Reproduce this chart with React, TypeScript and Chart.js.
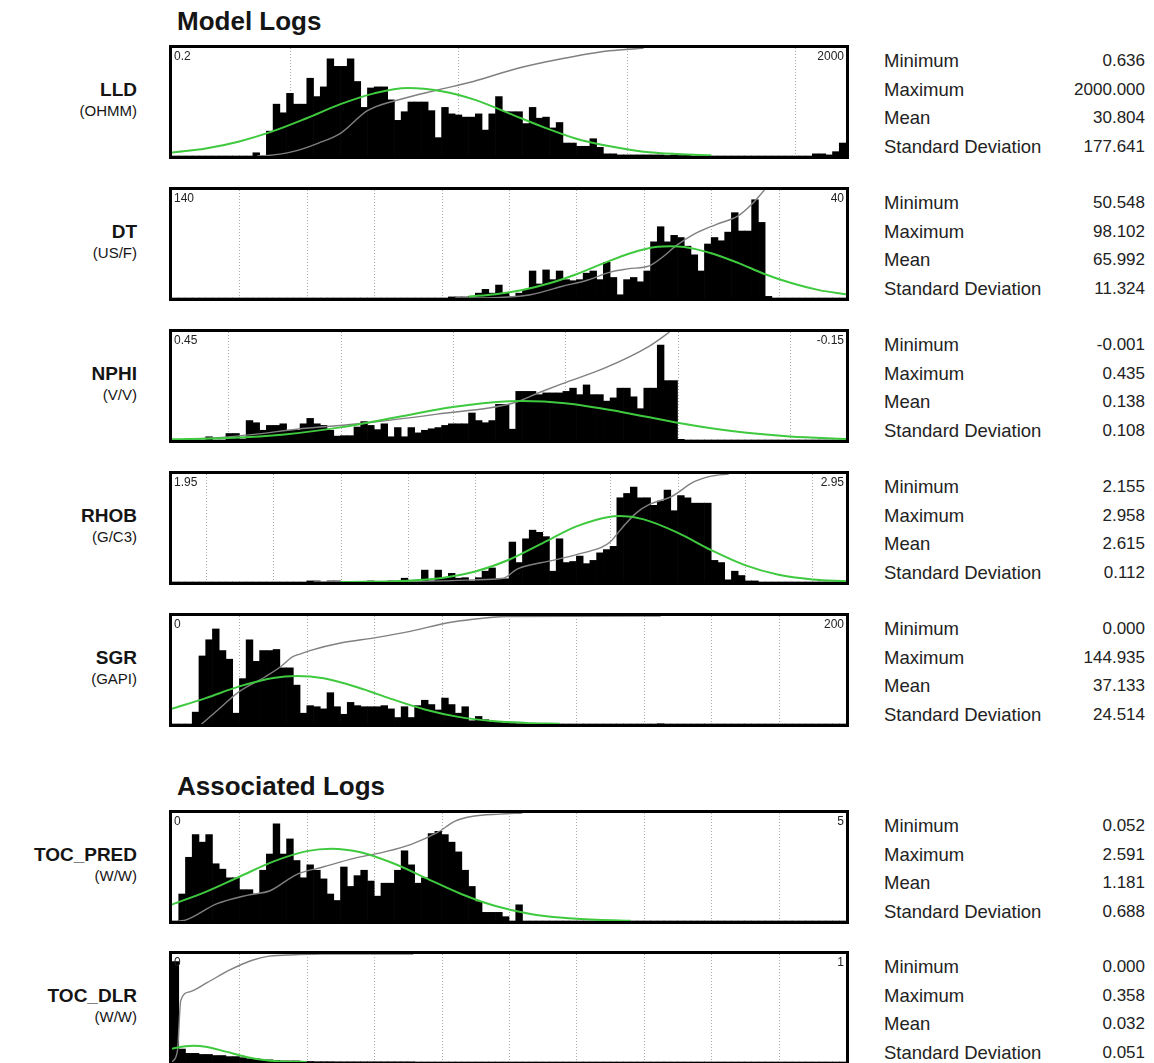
import React, { useEffect, useRef } from "react";
import { Chart, registerables } from "chart.js";

Chart.register(...registerables);

const FONT = '"Liberation Sans", Arial, Helvetica, sans-serif';

// ---------------- LLD ----------------
const LLD_RANGE = [0.2, 2000];
const LLD_RANGE_LABELS = ["0.2", "2000"];
const LLD_GRID = [1, 10, 100, 1000];
const LLD_COUNTS = [
  0, 0, 0, 0, 0, 0, 0, 0, 0, 0,
  0, 0, 3, 0, 23, 48, 40, 58, 48, 48,
  72, 55, 64, 90, 83, 83, 90, 69, 45, 63,
  64, 64, 52, 33, 41, 50, 50, 50, 42, 17,
  45, 39, 38, 36, 36, 39, 24, 39, 55, 41,
  41, 41, 30, 45, 35, 36, 26, 31, 12, 12,
  9, 9, 16, 8, 2, 2, 1, 1, 1, 1,
  1, 1, 1, 0.5, 1, 0.5, 1, 0, 0, 0,
  0, 0, 0, 0, 0, 0, 0, 0, 0, 0,
  0, 0, 0, 0, 0, 2, 2, 1, 4, 12,
];
const LLD_NORMAL: [number, number][] = [
  [0.2, 3.2], [0.317, 7], [0.502, 13.5], [0.796, 23], [1.26, 35], [2.0, 48], [3.17, 58],
  [5.02, 63], [7.96, 60], [12.6, 52], [20, 39.5], [31.7, 27], [50.2, 16], [79.6, 9],
  [126, 4], [200, 1.8], [317, 0.7],
];
const LLD_CUMUL: [number, number][] = [
  [0.64, 0], [0.8, 1], [1.1, 5], [1.48, 12], [2.0, 21], [2.89, 42], [4.67, 53], [7.5, 61],
  [12.3, 69], [22.3, 81], [41, 90], [74.6, 97], [117, 99.5], [126, 100],
];
const LLD_STATS = ["0.636", "2000.000", "30.804", "177.641"];

// ---------------- DT ----------------
const DT_RANGE = [140, 40];
const DT_RANGE_LABELS = ["140", "40"];
const DT_GRID = [130, 120, 110, 100, 90, 80, 70, 60, 50];
const DT_COUNTS = [
  0, 0, 0, 0, 0, 0, 0, 0, 0, 0,
  0, 0, 0, 0, 0, 0, 0, 0, 0, 0,
  0, 0, 0, 0, 0, 0, 0, 0, 0, 0,
  0, 0, 0, 0, 0, 0, 0, 0, 0, 0,
  0, 1, 1, 1, 1.5, 4.5, 8, 4.5, 12, 4.5,
  1.5, 4.5, 8, 25, 13, 26, 17, 25, 17, 16,
  17, 23, 25, 17, 33, 19, 3, 17, 19, 15,
  25, 52, 66, 52, 58, 56, 48, 40, 25, 50,
  56, 53, 61, 79, 62, 62, 91, 70, 1.5, 0,
  0, 0, 0, 0, 0, 0, 0, 0, 0, 0,
];
const DT_NORMAL: [number, number][] = [
  [96, 1.4], [92, 3.5], [88, 7.4], [84, 13.6], [80, 22], [76, 32], [72, 41.5], [68, 47.5],
  [66, 48], [64, 47.3], [60, 41.5], [56, 32.5], [52, 22], [48, 13.6], [44, 7.3], [40, 3.4],
];
const DT_CUMUL: [number, number][] = [
  [98, 0], [96, 0], [91.4, 0.5], [86.8, 3], [82.2, 10.6], [78.3, 16.7], [75, 24], [72.4, 27],
  [69.1, 30], [67.2, 38], [65.2, 48.5], [62.6, 59], [59.3, 68], [56, 76], [54.1, 86], [52.1, 100],
];
const DT_STATS = ["50.548", "98.102", "65.992", "11.324"];

// ---------------- NPHI ----------------
const NPHI_RANGE = [0.45, -0.15];
const NPHI_RANGE_LABELS = ["0.45", "-0.15"];
const NPHI_GRID = [0.4, 0.3, 0.2, 0.1, 0, -0.1];
const NPHI_COUNTS = [
  0, 0, 0.6, 0, 0, 3, 0, 0, 6, 6,
  1, 18, 16, 9, 13.5, 13.5, 15, 9, 9, 15,
  20, 15, 13.5, 9, 3.6, 4, 4, 12, 17, 13.5,
  9.6, 15, 3, 11.5, 3, 11.5, 6.6, 9, 10.4, 11.5,
  13.5, 15, 15, 15, 25, 18, 16, 18, 33, 33,
  10, 45, 45, 45, 42, 43.6, 43.6, 43.6, 45, 48,
  42, 51, 42, 42, 36, 39, 48, 48, 40, 29,
  48, 48, 88, 55, 55, 0.6, 0, 0, 0, 0,
  0, 0, 0, 0, 0, 0, 0, 0, 0, 0,
  0, 0, 0, 0, 0, 0, 0, 0, 0, 0,
];
const NPHI_NORMAL: [number, number][] = [
  [0.45, 0.6], [0.4, 1.9], [0.35, 5.2], [0.3, 11.7], [0.25, 21], [0.2, 30.5], [0.15, 35.8],
  [0.138, 36], [0.1, 34], [0.05, 26], [0.0, 16], [-0.05, 8], [-0.1, 3.2], [-0.15, 1],
];
const NPHI_CUMUL: [number, number][] = [
  [0.437, 0], [0.379, 5], [0.339, 10], [0.284, 15], [0.214, 24], [0.147, 34], [0.123, 44],
  [0.103, 52], [0.064, 67], [0.025, 87], [0.007, 100],
];
const NPHI_STATS = ["-0.001", "0.435", "0.138", "0.108"];

// ---------------- RHOB ----------------
const RHOB_RANGE = [1.95, 2.95];
const RHOB_RANGE_LABELS = ["1.95", "2.95"];
const RHOB_GRID = [2.0, 2.1, 2.2, 2.3, 2.4, 2.5, 2.6, 2.7, 2.8, 2.9];
const RHOB_COUNTS = [
  0, 0, 0, 0, 0, 0, 0, 0, 0, 0,
  0, 0, 0, 0, 0, 0, 0, 0, 0, 0,
  1, 1, 0, 1, 1, 0, 0, 0, 0, 1,
  0, 0, 1, 0.5, 3.5, 0, 0, 11, 1, 11,
  3.5, 8, 3.5, 4, 1, 4, 10, 13, 3, 3,
  37, 18, 40, 48, 46, 42, 10, 40, 18, 19,
  24, 17, 20, 27, 30, 33, 78, 82, 88, 78,
  78, 71, 75, 85, 66, 80, 78, 73, 73, 73,
  20, 18, 2, 10, 6, 1, 1, 0, 0, 0,
  0, 0, 0, 0, 0, 0, 0, 0, 0, 0,
];
const RHOB_NORMAL: [number, number][] = [
  [2.2, 0], [2.3, 1.2], [2.35, 3.7], [2.4, 9.7], [2.45, 20.6], [2.5, 36], [2.55, 51.5],
  [2.6, 60.5], [2.615, 61], [2.65, 58], [2.7, 45.7], [2.75, 29.5], [2.8, 15.6], [2.85, 6.7],
  [2.9, 2.4], [2.95, 0.7],
];
const RHOB_CUMUL: [number, number][] = [
  [2.16, 0], [2.35, 1], [2.397, 2], [2.442, 3.5], [2.462, 12], [2.515, 20], [2.56, 27],
  [2.587, 32], [2.6, 37], [2.619, 51], [2.639, 64], [2.659, 72], [2.691, 79], [2.724, 92.6],
  [2.75, 98], [2.776, 100],
];
const RHOB_STATS = ["2.155", "2.958", "2.615", "0.112"];

// ---------------- SGR ----------------
const SGR_RANGE = [0, 200];
const SGR_RANGE_LABELS = ["0", "200"];
const SGR_GRID = [20, 40, 60, 80, 100, 120, 140, 160, 180];
const SGR_COUNTS = [
  0, 0, 0, 11, 63, 78, 88, 68, 60, 10,
  42, 78, 58, 68, 68, 69, 52, 52, 36, 10,
  17, 16, 14, 29, 16, 9, 20, 17, 16, 16,
  16, 17, 14, 6, 16, 6, 17, 22, 18, 13,
  24, 18, 10, 16, 3, 7, 4, 2, 2, 1,
  0.5, 0.3, 0.3, 0, 0, 0.5, 0, 0, 0, 0,
  0, 0, 0, 0, 0, 0, 0, 0, 0, 0,
  0, 0, 0.3, 0, 0, 0, 0, 0, 0, 0,
  0, 0, 0, 0, 0, 0, 0, 0, 0, 0,
  0, 0, 0, 0, 0, 0, 0, 0, 0, 0,
];
const SGR_NORMAL: [number, number][] = [
  [0, 14.1], [10, 24], [20, 34.8], [30, 42.6], [37, 44.5], [45, 42.3], [55, 34], [65, 23.3],
  [75, 13.5], [85, 6.6], [95, 2.7], [105, 1], [115, 0.3],
];
const SGR_CUMUL: [number, number][] = [
  [8.8, 0], [14.7, 16], [19.9, 30], [27.8, 44], [32.4, 53.5], [35.6, 62], [38.2, 65],
  [40.9, 68], [50, 75], [60.5, 80], [71, 86], [81.5, 93.5], [89.3, 97], [99.1, 99.5], [145, 100],
];
const SGR_STATS = ["0.000", "144.935", "37.133", "24.514"];

// ---------------- TOC_PRED ----------------
const TOCP_RANGE = [0, 5];
const TOCP_RANGE_LABELS = ["0", "5"];
const TOCP_GRID = [0.5, 1, 1.5, 2, 2.5, 3, 3.5, 4, 4.5];
const TOCP_COUNTS = [
  0, 25, 59, 80, 73, 80, 53, 48, 40, 40,
  29, 29, 25, 47, 62, 90, 62, 76, 56, 40,
  52, 47, 39, 25, 19, 50, 32, 42, 47, 37,
  23, 35, 35, 47, 65, 52, 35, 40, 81, 83,
  80, 73, 64, 47, 32, 18, 8, 8, 8, 4,
  0, 15, 0, 0, 0, 0, 0, 0, 0, 0,
  0, 0, 0, 0, 0, 0, 0, 0, 0, 0,
  0, 0, 0, 0, 0, 0, 0, 0, 0, 0,
  0, 0, 0, 0, 0, 0, 0, 0, 0, 0,
  0, 0, 0, 0, 0, 0, 0, 0, 0, 0,
];
const TOCP_NORMAL: [number, number][] = [
  [0, 15.3], [0.25, 27], [0.5, 41], [0.75, 55], [1.0, 64.7], [1.181, 67], [1.4, 63.7],
  [1.65, 53], [1.9, 38.8], [2.15, 24.8], [2.4, 13.9], [2.65, 6.8], [2.9, 2.9], [3.15, 1.1],
  [3.4, 0.3],
];
const TOCP_CUMUL: [number, number][] = [
  [0.052, 0], [0.105, 1], [0.334, 16], [0.563, 24], [0.727, 28], [0.923, 43], [1.12, 50],
  [1.35, 58], [1.578, 64], [1.775, 71], [1.97, 82], [2.1, 92.5], [2.233, 97], [2.43, 99],
  [2.6, 100],
];
const TOCP_STATS = ["0.052", "2.591", "1.181", "0.688"];

// ---------------- TOC_DLR ----------------
const TOCD_RANGE = [0, 1];
const TOCD_RANGE_LABELS = ["0", "1"];
const TOCD_GRID = [0.1, 0.2, 0.3, 0.4, 0.5, 0.6, 0.7, 0.8, 0.9];
const TOCD_COUNTS = [
  93, 12, 8, 8, 7, 7, 6, 6, 5, 5,
  4, 3, 3, 2, 2, 1.5, 1, 1, 1, 0.5,
  0.5, 0.3, 0.3, 0.3, 0.2, 0.2, 0.2, 0.2, 0.2, 0.2,
  0.2, 0.2, 0.2, 0.2, 0.2, 0.2, 0, 0, 0, 0,
  0, 0, 0, 0, 0, 0, 0, 0, 0, 0,
  0, 0, 0, 0, 0, 0, 0, 0, 0, 0,
  0, 0, 0, 0, 0, 0, 0, 0, 0, 0,
  0, 0, 0, 0, 0, 0, 0, 0, 0, 0,
  0, 0, 0, 0, 0, 0, 0, 0, 0, 0,
  0, 0, 0, 0, 0, 0, 0, 0, 0, 0,
];
const TOCD_NORMAL: [number, number][] = [
  [0, 12.3], [0.02, 14.6], [0.032, 15], [0.05, 14.1], [0.08, 9.6], [0.11, 4.7], [0.14, 1.6],
  [0.17, 0.4], [0.2, 0.05],
];
const TOCD_CUMUL: [number, number][] = [
  [0, 0], [0.008, 10], [0.013, 57], [0.026, 65], [0.052, 73.5], [0.085, 85], [0.118, 94],
  [0.144, 98], [0.184, 99.3], [0.223, 100], [0.358, 100],
];
const TOCD_STATS = ["0.000", "0.358", "0.032", "0.051"];

const STAT_NAMES = ["Minimum", "Maximum", "Mean", "Standard Deviation"];
const SECTION_TITLES = ["Model Logs", "Associated Logs"];

type PanelDef = {
  name: string;
  unit: string;
  top: number;
  log?: boolean;
  range: number[];
  rangeLabels: string[];
  grid: number[];
  counts: number[];
  normal: [number, number][];
  cumul: [number, number][];
  stats: string[];
};

const BOX_LEFT = 169;
const BOX_W = 680;
const BOX_H = 114;
const PAGE_W = 1154;

const PANELS: PanelDef[] = [
  { name: "LLD", unit: "(OHMM)", top: 45, log: true, range: LLD_RANGE, rangeLabels: LLD_RANGE_LABELS, grid: LLD_GRID, counts: LLD_COUNTS, normal: LLD_NORMAL, cumul: LLD_CUMUL, stats: LLD_STATS },
  { name: "DT", unit: "(US/F)", top: 187, range: DT_RANGE, rangeLabels: DT_RANGE_LABELS, grid: DT_GRID, counts: DT_COUNTS, normal: DT_NORMAL, cumul: DT_CUMUL, stats: DT_STATS },
  { name: "NPHI", unit: "(V/V)", top: 329, range: NPHI_RANGE, rangeLabels: NPHI_RANGE_LABELS, grid: NPHI_GRID, counts: NPHI_COUNTS, normal: NPHI_NORMAL, cumul: NPHI_CUMUL, stats: NPHI_STATS },
  { name: "RHOB", unit: "(G/C3)", top: 471, range: RHOB_RANGE, rangeLabels: RHOB_RANGE_LABELS, grid: RHOB_GRID, counts: RHOB_COUNTS, normal: RHOB_NORMAL, cumul: RHOB_CUMUL, stats: RHOB_STATS },
  { name: "SGR", unit: "(GAPI)", top: 613, range: SGR_RANGE, rangeLabels: SGR_RANGE_LABELS, grid: SGR_GRID, counts: SGR_COUNTS, normal: SGR_NORMAL, cumul: SGR_CUMUL, stats: SGR_STATS },
  { name: "TOC_PRED", unit: "(W/W)", top: 810, range: TOCP_RANGE, rangeLabels: TOCP_RANGE_LABELS, grid: TOCP_GRID, counts: TOCP_COUNTS, normal: TOCP_NORMAL, cumul: TOCP_CUMUL, stats: TOCP_STATS },
  { name: "TOC_DLR", unit: "(W/W)", top: 951, range: TOCD_RANGE, rangeLabels: TOCD_RANGE_LABELS, grid: TOCD_GRID, counts: TOCD_COUNTS, normal: TOCD_NORMAL, cumul: TOCD_CUMUL, stats: TOCD_STATS },
];

function Histogram({ p }: { p: PanelDef }) {
  const ref = useRef<HTMLCanvasElement | null>(null);
  useEffect(() => {
    const canvas = ref.current;
    if (!canvas) return;
    const [a, b] = p.range;
    const n = p.counts.length;
    const centers = p.counts.map((_, i) => {
      const t = (i + 0.5) / n;
      return p.log ? a * Math.pow(b / a, t) : a + (b - a) * t;
    });
    const decor = {
      id: "decor",
      beforeDatasetsDraw(chart: any) {
        const { ctx, chartArea } = chart;
        const xs = chart.scales.x;
        ctx.save();
        ctx.strokeStyle = "#ababab";
        ctx.lineWidth = 1;
        ctx.setLineDash([1, 2]);
        for (const v of p.grid) {
          const px = Math.round(xs.getPixelForValue(v)) + 0.5;
          ctx.beginPath();
          ctx.moveTo(px, chartArea.top);
          ctx.lineTo(px, chartArea.bottom);
          ctx.stroke();
        }
        ctx.restore();
      },
      afterDraw(chart: any) {
        const { ctx, chartArea, width, height } = chart;
        ctx.save();
        ctx.font = `12px ${FONT}`;
        ctx.fillStyle = "#222";
        ctx.textBaseline = "top";
        ctx.textAlign = "left";
        ctx.fillText(p.rangeLabels[0], chartArea.left + 2, chartArea.top + 3);
        ctx.textAlign = "right";
        ctx.fillText(p.rangeLabels[1], chartArea.right - 2, chartArea.top + 3);
        ctx.setLineDash([]);
        ctx.strokeStyle = "#000";
        ctx.lineWidth = 3;
        ctx.strokeRect(1.5, 1.5, width - 3, height - 3);
        ctx.restore();
      },
    };
    const chart = new Chart(canvas, {
      type: "bar",
      data: {
        datasets: [
          {
            type: "bar",
            data: centers.map((x, i) => ({ x, y: p.counts[i] })),
            backgroundColor: "#000",
            borderWidth: 0,
            barThickness: "flex",
            barPercentage: 1,
            categoryPercentage: 1,
            order: 3,
            yAxisID: "y",
          } as any,
          {
            type: "line",
            data: p.cumul.map(([x, y]) => ({ x, y })),
            borderColor: "#808080",
            borderWidth: 1.4,
            pointRadius: 0,
            cubicInterpolationMode: "monotone",
            order: 2,
            yAxisID: "y2",
          } as any,
          {
            type: "line",
            data: p.normal.map(([x, y]) => ({ x, y })),
            borderColor: "#3fc93f",
            borderWidth: 2,
            pointRadius: 0,
            cubicInterpolationMode: "monotone",
            order: 1,
            yAxisID: "y",
          } as any,
        ],
      },
      options: {
        responsive: false,
        animation: false,
        devicePixelRatio: 1,
        layout: { padding: 3 },
        plugins: { legend: { display: false }, tooltip: { enabled: false } },
        scales: {
          x: {
            type: p.log ? "logarithmic" : "linear",
            min: Math.min(a, b),
            max: Math.max(a, b),
            reverse: a > b,
            offset: false,
            display: false,
          },
          y: { min: 0, max: 100, display: false },
          y2: { min: 0, max: 100, display: false },
        },
      } as any,
      plugins: [decor],
    });
    return () => chart.destroy();
  }, [p]);
  return (
    <canvas
      ref={ref}
      width={BOX_W}
      height={BOX_H}
      style={{ position: "absolute", left: BOX_LEFT, top: p.top, width: BOX_W, height: BOX_H, display: "block" }}
    />
  );
}

const abs = (s: React.CSSProperties): React.CSSProperties => ({
  position: "absolute",
  whiteSpace: "nowrap",
  fontFamily: FONT,
  color: "#151515",
  ...s,
});

export default function App() {
  return (
    <div style={{ position: "absolute", left: 0, top: 0, width: PAGE_W, height: 1063, overflow: "hidden", background: "#fff" }}>
      <div style={abs({ left: 177, top: 21 - 14, fontSize: 26, lineHeight: "28px", fontWeight: "bold" })}>{SECTION_TITLES[0]}</div>
      <div style={abs({ left: 177, top: 786 - 14, fontSize: 26, lineHeight: "28px", fontWeight: "bold" })}>{SECTION_TITLES[1]}</div>
      {PANELS.map((p) => {
        const cy = p.top + BOX_H / 2;
        return (
          <React.Fragment key={p.name}>
            <div style={abs({ right: PAGE_W - 137, top: cy - 12 - 11, fontSize: 19, lineHeight: "22px", fontWeight: "bold" })}>{p.name}</div>
            <div style={abs({ right: PAGE_W - 137, top: cy + 9 - 9, fontSize: 15, lineHeight: "18px" })}>{p.unit}</div>
            {STAT_NAMES.map((s, k) => {
              const ry = cy + (k - 1.5) * 28.5 + 2;
              return (
                <React.Fragment key={s}>
                  <div style={abs({ left: 884, top: ry - 11, fontSize: 18.5, lineHeight: "22px", color: "#222" })}>{s}</div>
                  <div style={abs({ right: PAGE_W - 1145, top: ry - 11, fontSize: 17, lineHeight: "22px", color: "#222" })}>{p.stats[k]}</div>
                </React.Fragment>
              );
            })}
            <Histogram p={p} />
          </React.Fragment>
        );
      })}
    </div>
  );
}
